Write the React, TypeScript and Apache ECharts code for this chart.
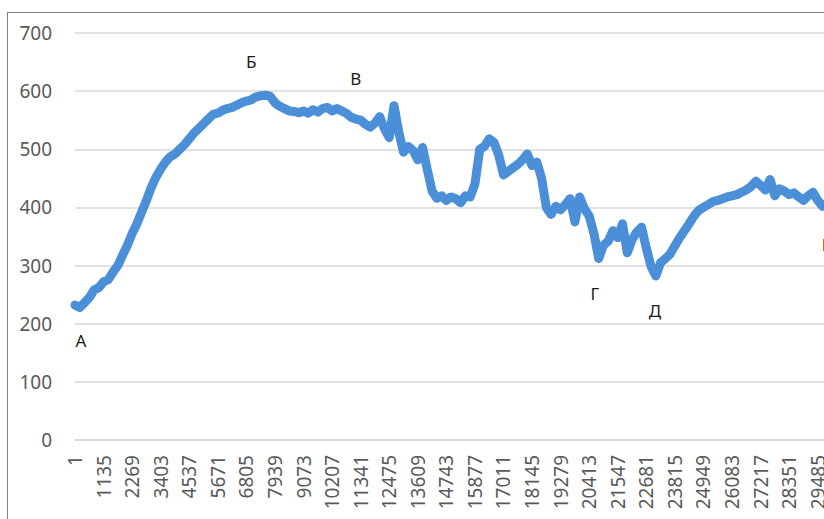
import React, { useEffect, useRef } from "react";
import * as echarts from "echarts";

// x positions are sample indices of the original measurement (every 189th point)
const START = 1;
const STEP = 189;
const LABEL_EVERY = 6; // 6 * 189 = 1134 -> labels 1, 1135, 2269, ...

// values, one per sample index
const values: number[] = [
  232, 228, 236, 245, 258, 262, 272, 276, 289, 300,
  318, 335, 355, 372, 392, 412, 434, 452, 466, 478,
  487, 492, 500, 508, 518, 528, 536, 544, 552, 560,
  562, 567, 570, 572, 576, 580, 583, 585, 590, 592,
  593, 591, 580, 574, 570, 566, 565, 563, 566, 562,
  568, 564, 570, 572, 566, 570, 566, 562, 555, 552,
  550, 543, 538, 545, 556, 535, 520, 575, 530, 495,
  505, 498, 482, 503, 465, 428, 416, 420, 412, 418,
  415, 408, 420, 418, 440, 500, 505, 518, 512, 490,
  456, 462, 468, 474, 482, 492, 472, 478, 450, 400,
  388, 402, 396, 405, 415, 375, 418, 398, 385, 355,
  312, 335, 342, 360, 348, 372, 322, 344, 358, 366,
  330, 298, 282, 305, 312, 320, 334, 348, 360, 372,
  385, 395, 400, 405, 410, 412, 415, 418, 420, 422,
  426, 430, 436, 445, 438, 430, 448, 420, 432, 428,
  422, 425, 418, 412, 420, 426, 412, 402, 408, 410,
];

const categories: string[] = values.map((_, i) => String(START + i * STEP));

const yTicks = [0, 100, 200, 300, 400, 500, 600, 700];

// point annotations: letter and the sample index it marks, with label offset (px)
const notes = [
  { text: "А", idx: 0, dx: 6, dy: 35 },
  { text: "Б", idx: 37, dx: 0, dy: -38 },
  { text: "В", idx: 59, dx: 0, dy: -41 },
  { text: "Г", idx: 110, dx: -4, dy: 35 },
  { text: "Д", idx: 122, dx: -1, dy: 34 },
  { text: "Е", idx: 157, dx: 4, dy: 38 },
];

const FONT = "'Noto Sans', 'Open Sans', sans-serif";

export default function App() {
  const ref = useRef<HTMLDivElement>(null);
  useEffect(() => {
    if (!ref.current) return;
    const chart = echarts.init(ref.current, undefined, { renderer: "svg" });
    chart.setOption({
      animation: false,
      backgroundColor: "#ffffff",
      grid: { left: 67, top: 20, width: 757, height: 407, containLabel: false },
      xAxis: {
        type: "category",
        data: categories,
        boundaryGap: false,
        axisLine: { show: true, lineStyle: { color: "#d9d9d9", width: 1.5 } },
        axisTick: { show: false },
        axisLabel: {
          interval: LABEL_EVERY - 1,
          rotate: 90,
          margin: 15,
          color: "#595959",
          fontSize: 19,
          fontFamily: FONT,
        },
        splitLine: { show: false },
      },
      yAxis: {
        type: "value",
        min: yTicks[0],
        max: yTicks[yTicks.length - 1],
        interval: 100,
        axisLine: { show: false },
        axisTick: { show: false },
        axisLabel: { color: "#595959", fontSize: 19, fontFamily: FONT, margin: 23 },
        splitLine: { lineStyle: { color: "#d9d9d9", width: 1.5 } },
      },
      series: [
        {
          type: "line",
          data: values,
          showSymbol: false,
          symbol: "none",
          smooth: false,
          lineStyle: { color: "#4a8fd8", width: 9, join: "round", cap: "round" },
          markPoint: {
            symbol: "circle",
            symbolSize: 0,
            silent: true,
            data: notes.map((n) => ({
              coord: [n.idx, values[n.idx]],
              label: {
                show: true,
                formatter: n.text,
                offset: [n.dx, n.dy],
                color: "#1a1a1a",
                fontSize: 17,
                fontFamily: FONT,
              },
            })),
          },
        },
      ],
    });
    return () => chart.dispose();
  }, []);

  return (
    <div
      style={{
        position: "fixed",
        left: 0,
        top: 0,
        width: 824,
        height: 519,
        overflow: "hidden",
        background: "#ffffff",
      }}
    >
      <div
        style={{
          position: "absolute",
          left: 7,
          top: 12,
          border: "1px solid #7f7f7f",
          width: 900,
          height: 560,
          background: "#ffffff",
        }}
      >
        <div ref={ref} style={{ width: 900, height: 560 }} />
      </div>
    </div>
  );
}
